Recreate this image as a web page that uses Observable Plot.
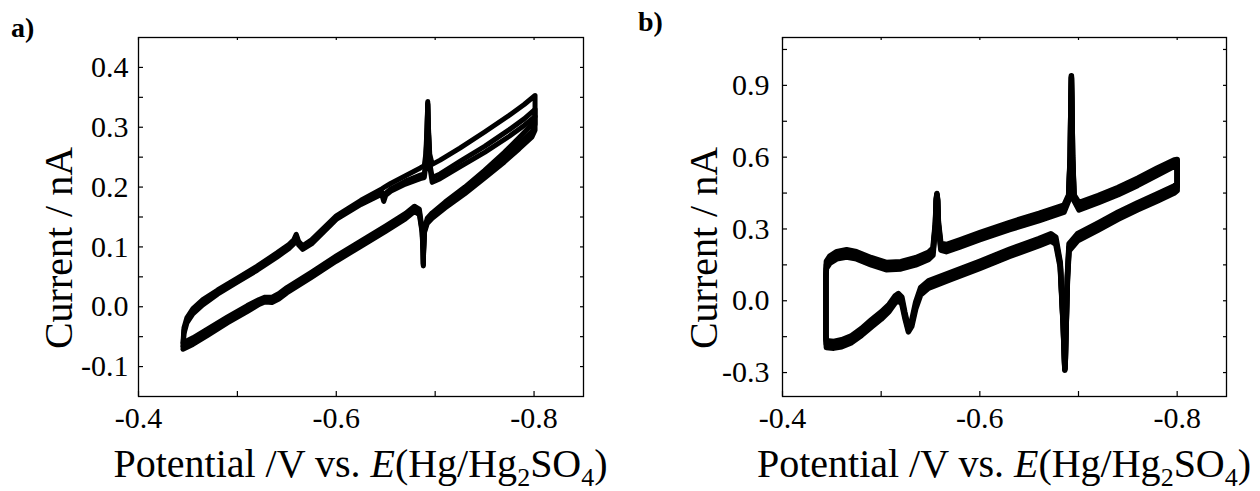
<!DOCTYPE html>
<html>
<head>
<meta charset="utf-8">
<script src="https://cdn.jsdelivr.net/npm/d3@7"></script>
<script src="https://cdn.jsdelivr.net/npm/@observablehq/plot@0.6"></script>
<style>
  html, body { margin: 0; padding: 0; background: #fff; }
  #wrap { display: flex; width: 1260px; height: 491px; }
  #wrap svg { display: block; flex: none; }
</style>
</head>
<body>
<div id="wrap"></div>
<script>
// ---------- shared axis data ----------
const xDomain = [-0.4, -0.85];
const xTickLabels = [-0.4, -0.6, -0.8];
const xTickMarks = [-0.4, -0.5, -0.6, -0.7, -0.8];

const panelLabels = ["a)", "b)"];
const yTitle = "Current / nA";

// ---------- panel a ----------
const aYDomain = [-0.15, 0.45];
const aYTickLabels = [-0.1, 0.0, 0.1, 0.2, 0.3, 0.4];
const aYTickMarks = [-0.1, -0.05, 0, 0.05, 0.1, 0.15, 0.2, 0.25, 0.3, 0.35, 0.4];

const aPotential = [
  -0.445, -0.455, -0.470, -0.490, -0.510, -0.522, -0.528, -0.535, -0.542, -0.550,
  -0.575, -0.600, -0.625, -0.650, -0.670, -0.679, -0.684, -0.6868, -0.6877, -0.688,
  -0.6883, -0.6892, -0.692, -0.697, -0.710, -0.730, -0.750, -0.770, -0.785, -0.798, -0.801,
  -0.801, -0.790, -0.775, -0.750, -0.725, -0.705, -0.697, -0.6945, -0.6932, -0.6925,
  -0.6918, -0.6905, -0.689, -0.685, -0.670, -0.655, -0.650, -0.648, -0.646, -0.625,
  -0.600, -0.575, -0.566, -0.562, -0.5595, -0.557, -0.552, -0.540, -0.520, -0.500,
  -0.480, -0.465, -0.455, -0.449, -0.446, -0.445
];
const aCurrent1 = [
  -0.060, -0.052, -0.037, -0.017, 0.002, 0.012, 0.016, 0.016, 0.022, 0.032,
  0.058, 0.085, 0.110, 0.135, 0.156, 0.168, 0.163, 0.130, 0.095, 0.072,
  0.095, 0.130, 0.148, 0.157, 0.175, 0.200, 0.228, 0.258, 0.283, 0.305, 0.318,
  0.353, 0.338, 0.320, 0.292, 0.265, 0.245, 0.238, 0.255, 0.300, 0.343,
  0.300, 0.255, 0.236, 0.232, 0.219, 0.206, 0.201, 0.199, 0.197, 0.178,
  0.152, 0.112, 0.102, 0.109, 0.121, 0.112, 0.104, 0.090, 0.068, 0.048,
  0.028, 0.012, -0.003, -0.018, -0.035, -0.060
];
const aCurrent2 = [
  -0.066, -0.058, -0.043, -0.022, -0.003, 0.008, 0.012, 0.011, 0.017, 0.027,
  0.053, 0.080, 0.105, 0.130, 0.151, 0.163, 0.158, 0.127, 0.093, 0.070,
  0.093, 0.127, 0.143, 0.152, 0.170, 0.195, 0.222, 0.250, 0.273, 0.293, 0.305,
  0.330, 0.314, 0.296, 0.268, 0.243, 0.222, 0.216, 0.240, 0.295, 0.340,
  0.295, 0.240, 0.222, 0.220, 0.210, 0.197, 0.190, 0.180, 0.192, 0.174,
  0.149, 0.108, 0.099, 0.106, 0.118, 0.108, 0.100, 0.086, 0.064, 0.044,
  0.024, 0.007, -0.008, -0.023, -0.040, -0.066
];
const aCurrent3 = [
  -0.071, -0.063, -0.048, -0.027, -0.008, 0.004, 0.008, 0.007, 0.013, 0.023,
  0.049, 0.076, 0.101, 0.126, 0.147, 0.159, 0.154, 0.124, 0.090, 0.068,
  0.090, 0.124, 0.139, 0.148, 0.165, 0.189, 0.215, 0.242, 0.264, 0.284, 0.295,
  0.318, 0.303, 0.285, 0.258, 0.234, 0.214, 0.208, 0.235, 0.292, 0.338,
  0.292, 0.235, 0.216, 0.214, 0.205, 0.193, 0.186, 0.176, 0.188, 0.171,
  0.146, 0.105, 0.096, 0.103, 0.115, 0.105, 0.097, 0.083, 0.061, 0.041,
  0.021, 0.003, -0.012, -0.027, -0.045, -0.071
];

// ---------- panel b ----------
const bYDomain = [-0.4, 1.1];
const bYTickLabels = [-0.3, 0.0, 0.3, 0.6, 0.9];
const bYTickMarks = [-0.3, -0.15, 0, 0.15, 0.3, 0.45, 0.6, 0.75, 0.9, 1.05];

const bPotential = [
  -0.4445, -0.452, -0.460, -0.470, -0.480, -0.490, -0.500, -0.508, -0.514, -0.5175,
  -0.521, -0.524, -0.5276, -0.531, -0.535, -0.540, -0.548, -0.570, -0.600, -0.630,
  -0.660, -0.672, -0.677, -0.6815, -0.6845, -0.6858, -0.6862, -0.6866, -0.6875, -0.6888,
  -0.6904, -0.699, -0.720, -0.740, -0.760, -0.780, -0.797, -0.800,
  -0.800, -0.797, -0.780, -0.760, -0.740, -0.720, -0.7005, -0.6955, -0.6940, -0.6932,
  -0.6928, -0.6924, -0.6916, -0.6900, -0.6853, -0.660, -0.630, -0.600, -0.580, -0.566,
  -0.5605, -0.558, -0.5572, -0.5565, -0.5558, -0.555, -0.5525, -0.548, -0.535, -0.520,
  -0.505, -0.490, -0.475, -0.465, -0.455, -0.448, -0.4445, -0.4440, -0.4440, -0.4445
];
const bCurrent1 = [
  -0.182, -0.185, -0.178, -0.160, -0.130, -0.095, -0.062, -0.030, 0.005, 0.015,
  0.000, -0.060, -0.122, -0.095, -0.020, 0.040, 0.068, 0.103, 0.150, 0.200,
  0.245, 0.265, 0.250, 0.150, -0.100, -0.250, -0.286, -0.250, -0.100, 0.100,
  0.223, 0.265, 0.310, 0.355, 0.395, 0.432, 0.465, 0.475,
  0.585, 0.575, 0.540, 0.497, 0.458, 0.425, 0.395, 0.430, 0.600, 0.850,
  0.940, 0.850, 0.600, 0.430, 0.385, 0.350, 0.312, 0.270, 0.240, 0.220,
  0.225, 0.320, 0.420, 0.445, 0.420, 0.320, 0.205, 0.188, 0.165, 0.148,
  0.145, 0.165, 0.190, 0.198, 0.190, 0.172, 0.150, 0.100, -0.150, -0.182
];
const bCurrent2 = [
  -0.167, -0.170, -0.163, -0.146, -0.116, -0.080, -0.047, -0.015, 0.020, 0.030,
  0.015, -0.048, -0.112, -0.082, -0.006, 0.055, 0.083, 0.118, 0.165, 0.215,
  0.260, 0.280, 0.265, 0.160, -0.095, -0.245, -0.282, -0.245, -0.095, 0.110,
  0.238, 0.280, 0.325, 0.370, 0.410, 0.447, 0.480, 0.490,
  0.590, 0.588, 0.555, 0.512, 0.473, 0.440, 0.410, 0.442, 0.605, 0.845,
  0.935, 0.845, 0.605, 0.442, 0.400, 0.365, 0.327, 0.285, 0.255, 0.235,
  0.240, 0.330, 0.425, 0.448, 0.425, 0.330, 0.220, 0.203, 0.180, 0.163,
  0.160, 0.180, 0.205, 0.213, 0.205, 0.187, 0.165, 0.110, -0.140, -0.167
];
const bCurrent3 = [
  -0.195, -0.198, -0.192, -0.175, -0.145, -0.110, -0.077, -0.045, -0.010, 0.001,
  -0.014, -0.072, -0.130, -0.107, -0.034, 0.025, 0.053, 0.088, 0.135, 0.185,
  0.230, 0.250, 0.236, 0.140, -0.105, -0.255, -0.290, -0.255, -0.105, 0.090,
  0.208, 0.250, 0.295, 0.340, 0.380, 0.417, 0.450, 0.460,
  0.575, 0.562, 0.525, 0.482, 0.443, 0.410, 0.380, 0.418, 0.595, 0.845,
  0.930, 0.845, 0.595, 0.418, 0.370, 0.335, 0.297, 0.255, 0.225, 0.205,
  0.212, 0.310, 0.415, 0.440, 0.415, 0.310, 0.190, 0.173, 0.150, 0.133,
  0.130, 0.150, 0.175, 0.183, 0.175, 0.157, 0.135, 0.090, -0.160, -0.195
];

// ---------- drawing ----------
const FONT = "Liberation Serif, Times New Roman, serif";

function makePanel(cfg) {
  const W = 630, H = 491;
  const fw = W - cfg.ml - cfg.mr, fh = H - cfg.mt - cfg.mb;
  const rows = [];
  cfg.cycles.forEach((cur, k) => cur.forEach((v, i) => rows.push({E: cfg.potential[i], I: v, cycle: k})));
  const fmt = d => d.toFixed(1);
  const tickStyle = {stroke: "#000", strokeWidth: 1.2};
  const svg = Plot.plot({
    width: W, height: H,
    marginLeft: cfg.ml, marginRight: cfg.mr, marginTop: cfg.mt, marginBottom: cfg.mb,
    style: {fontFamily: FONT, fontSize: "30px", color: "#000", background: "#fff"},
    x: {domain: xDomain},
    y: {domain: cfg.yDomain},
    marks: [
      Plot.line(rows, {x: "E", y: "I", z: "cycle", stroke: "#000", strokeWidth: cfg.sw,
        strokeLinejoin: "round", strokeLinecap: "round"}),
      Plot.frame({stroke: "#000", strokeWidth: 1.3}),
      Plot.tickY(cfg.yTickMarks, {y: d => d, insetRight: fw - 5, ...tickStyle}),
      Plot.tickY(cfg.yTickMarks, {y: d => d, insetLeft: fw - 3, ...tickStyle}),
      Plot.tickX(xTickMarks, {x: d => d, insetTop: fh - 5, ...tickStyle}),
      Plot.tickX(xTickMarks, {x: d => d, insetBottom: fh - 3, ...tickStyle}),
      Plot.axisX(xTickLabels, {tickSize: 0, tickPadding: 10, tickFormat: fmt, label: null,
        fontSize: 30, fontFamily: FONT}),
      Plot.axisY(cfg.yTickLabels, {tickSize: 0, tickPadding: cfg.yPad, tickFormat: fmt, label: null,
        fontSize: 30, fontFamily: FONT})
    ]
  });
  const s = d3.select(svg);
  // panel label
  s.append("text").attr("x", cfg.labelX).attr("y", cfg.labelY)
    .attr("font-family", FONT).attr("font-size", 28).attr("font-weight", "bold")
    .attr("text-anchor", "start").attr("fill", "#000").text(cfg.label);
  // y title
  s.append("text").attr("transform", `translate(${cfg.yTitleX},248) rotate(-90)`)
    .attr("font-family", FONT).attr("font-size", 40).attr("text-anchor", "middle")
    .attr("fill", "#000").text(yTitle);
  // x title with italic E and subscripts
  const cx = cfg.ml + fw / 2;
  const t = s.append("text").attr("x", cx).attr("y", 477)
    .attr("font-family", FONT).attr("font-size", 40)
    .attr("text-anchor", "middle").attr("fill", "#000");
  t.append("tspan").text("Potential /V vs. ");
  t.append("tspan").attr("font-style", "italic").text("E");
  t.append("tspan").text("(Hg/Hg");
  t.append("tspan").attr("font-size", 26).attr("dy", 9).text("2");
  t.append("tspan").attr("dy", -9).text("SO");
  t.append("tspan").attr("font-size", 26).attr("dy", 9).text("4");
  t.append("tspan").attr("dy", -9).text(")");
  return svg;
}

const wrap = document.getElementById("wrap");
wrap.appendChild(makePanel({
  potential: aPotential, cycles: [aCurrent1, aCurrent2, aCurrent3],
  yDomain: aYDomain, yTickLabels: aYTickLabels, yTickMarks: aYTickMarks,
  ml: 138, mr: 47, mt: 37, mb: 95, sw: 5, yPad: 10,
  label: panelLabels[0], labelX: 11, labelY: 37, yTitleX: 72
}));
wrap.appendChild(makePanel({
  potential: bPotential, cycles: [bCurrent1, bCurrent2, bCurrent3],
  yDomain: bYDomain, yTickLabels: bYTickLabels, yTickMarks: bYTickMarks,
  ml: 152, mr: 34, mt: 37, mb: 95, sw: 5.5, yPad: 13,
  label: panelLabels[1], labelX: 8, labelY: 31, yTitleX: 87
}));
</script>
</body>
</html>
